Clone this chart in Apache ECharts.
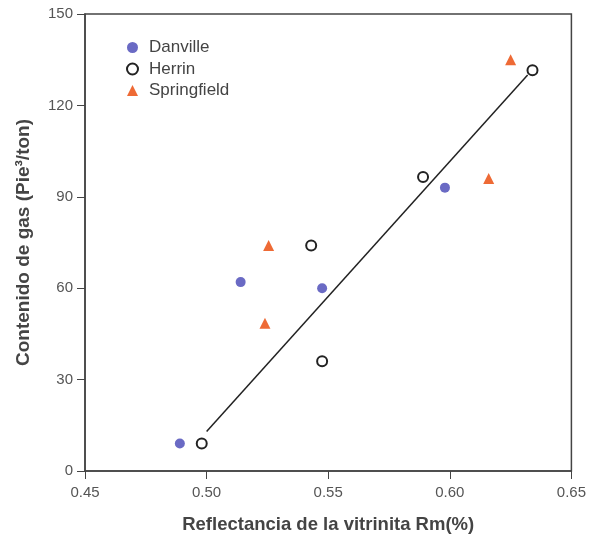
<!DOCTYPE html>
<html>
<head>
<meta charset="utf-8">
<script src="https://cdn.jsdelivr.net/npm/echarts@6/dist/echarts.min.js"></script>
<style>
  html, body { margin: 0; padding: 0; background: #fff; }
  #chart { width: 589px; height: 539px; }
</style>
</head>
<body>
<div id="chart"></div>
<script>
// datos
var danville = [[0.489, 9], [0.514, 62], [0.5475, 60], [0.598, 93]];
var herrin = [[0.498, 9], [0.543, 74], [0.5475, 36], [0.589, 96.5], [0.634, 131.5]];
var springfield = [[0.5255, 74], [0.524, 48.5], [0.616, 96], [0.625, 135]];
var tendencia = [[0.5, 13], [0.632, 130]];
var xTicks = [0.45, 0.5, 0.55, 0.6, 0.65];
var yTicks = [0, 30, 60, 90, 120, 150];

var chart = echarts.init(document.getElementById("chart"));
var gris = "#444";
chart.setOption({
  animation: false,
  backgroundColor: "#fff",
  textStyle: { fontFamily: "Liberation Sans, Arial, sans-serif" },
  grid: {
    left: 85, right: 16, top: 14, bottom: 66,
    show: true, borderColor: gris, borderWidth: 1.5
  },
  legend: {
    data: ["Danville", "Herrin", "Springfield"],
    orient: "vertical",
    left: 121, top: 34,
    itemWidth: 11, itemHeight: 11, itemGap: 4.5,
    textStyle: { color: gris, fontSize: 17, lineHeight: 17, padding: [0, 0, 0, 6] }
  },
  xAxis: {
    type: "value",
    min: xTicks[0], max: xTicks[xTicks.length - 1], interval: 0.05,
    name: "Reflectancia de la vitrinita Rm(%)",
    nameLocation: "middle", nameGap: 44,
    nameTextStyle: { color: gris, fontSize: 18.5, fontWeight: "bold" },
    axisLine: { lineStyle: { color: gris, width: 1.5 } },
    axisTick: { length: 8, lineStyle: { color: gris } },
    axisLabel: { color: "#555", fontSize: 15, margin: 14,
      formatter: function (v) { return v.toFixed(2); } },
    splitLine: { show: false }
  },
  yAxis: {
    type: "value",
    min: yTicks[0], max: yTicks[yTicks.length - 1], interval: 30,
    name: "Contenido de gas (Pie³/ton)",
    nameLocation: "middle", nameGap: 52,
    nameTextStyle: { color: gris, fontSize: 19, fontWeight: "bold" },
    axisLine: { lineStyle: { color: gris, width: 1.5 } },
    axisTick: { length: 8, lineStyle: { color: gris } },
    axisLabel: { color: "#555", fontSize: 15, margin: 12 },
    splitLine: { show: false }
  },
  series: [
    {
      name: "tendencia", type: "line", data: tendencia,
      symbol: "none", lineStyle: { color: "#222", width: 1.5 }, z: 1
    },
    {
      name: "Danville", type: "scatter", data: danville,
      symbol: "circle", symbolSize: 10,
      itemStyle: { color: "#6a6ac4", opacity: 1 }, z: 3
    },
    {
      name: "Herrin", type: "scatter", data: herrin,
      symbol: "emptyCircle", symbolSize: 10,
      itemStyle: { color: "#222", borderWidth: 2, opacity: 1 }, z: 3
    },
    {
      name: "Springfield", type: "scatter", data: springfield,
      symbol: "triangle", symbolSize: 11,
      itemStyle: { color: "#ee6a35", opacity: 1 }, z: 3
    }
  ]
});
</script>
</body>
</html>
